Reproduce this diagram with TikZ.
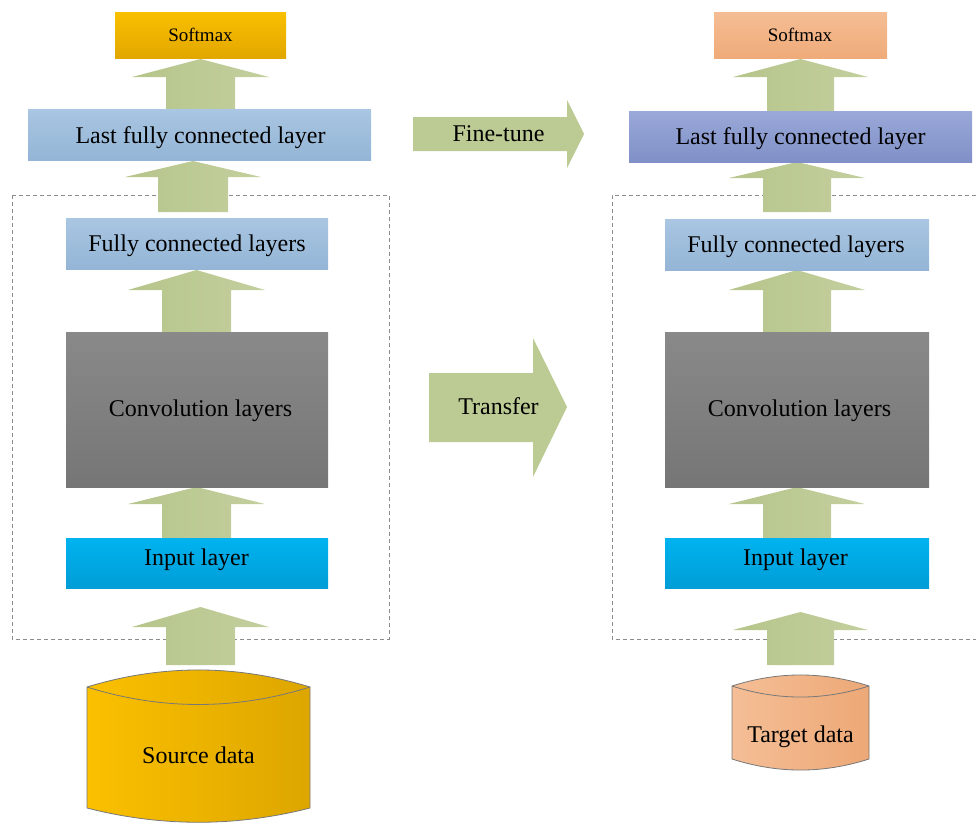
\documentclass[tikz,border=0pt]{standalone}
\usepackage{fontspec}
\setmainfont{Liberation Serif}
\usetikzlibrary{calc}
\definecolor{arrowL}{HTML}{B6C58B}
\definecolor{arrowR}{HTML}{C3CF9E}
\definecolor{arrowM}{HTML}{BCCA93}
\definecolor{dashgray}{HTML}{8C8C8C}
\definecolor{smLtop}{HTML}{F9C000}
\definecolor{smLbot}{HTML}{E2A700}
\definecolor{smRtop}{HTML}{F5BD94}
\definecolor{smRbot}{HTML}{EFAB79}
\definecolor{fcbtop}{HTML}{A9C6E2}
\definecolor{fcbbot}{HTML}{94B5D6}
\definecolor{fcptop}{HTML}{9AA9D8}
\definecolor{fcpbot}{HTML}{808FC7}
\definecolor{convtop}{HTML}{898989}
\definecolor{convbot}{HTML}{767676}
\definecolor{intop}{HTML}{00B3EF}
\definecolor{inbot}{HTML}{009DD6}
\definecolor{srcL}{HTML}{FBC000}
\definecolor{srcR}{HTML}{DDA600}
\definecolor{tgtL}{HTML}{F5BE96}
\definecolor{tgtR}{HTML}{EDA876}
\definecolor{cylrim}{HTML}{787878}
\tikzset{
  layerbox/.style={rectangle, inner sep=0pt},
  smaxL/.style={layerbox, top color=smLtop, bottom color=smLbot},
  smaxR/.style={layerbox, top color=smRtop, bottom color=smRbot},
  fcblue/.style={layerbox, top color=fcbtop, bottom color=fcbbot},
  fcpurple/.style={layerbox, top color=fcptop, bottom color=fcpbot},
  convbox/.style={layerbox, top color=convtop, bottom color=convbot},
  inbox/.style={layerbox, top color=intop, bottom color=inbot},
  fatarrow/.style={left color=arrowL, right color=arrowR, draw=none},
  midarrow/.style={fill=arrowM, draw=none},
  regionbox/.style={draw=dashgray, line width=0.9pt, dash pattern=on 4pt off 3pt},
  cylsrc/.style={draw=cylrim, line width=0.8pt, left color=srcL, right color=srcR},
  cyltgt/.style={draw=cylrim, line width=0.8pt, left color=tgtL, right color=tgtR},
  rimline/.style={draw=cylrim, line width=0.8pt},
  lbl/.style={inner sep=0pt, anchor=base, font=\fontsize{24}{28}\selectfont},
  smalllbl/.style={inner sep=0pt, anchor=base, font=\fontsize{19}{22}\selectfont},
}
% up block arrow: cx, ybottom, ytip, shaft half width, head half width, head length
\newcommand\upblock[6]{%
  \path[fatarrow] ({#1-#4},#2) -- ({#1-#4},{#3+#6}) -- ({#1-#5},{#3+#6}) -- (#1,#3)
    -- ({#1+#5},{#3+#6}) -- ({#1+#4},{#3+#6}) -- ({#1+#4},#2) -- cycle;}
\begin{document}
\begin{tikzpicture}[x=1pt,y=-1pt]
\useasboundingbox (0,0) rectangle (976,822);
% dashed regions
\draw[regionbox] (12,195) rectangle (389,639);
\draw[regionbox] (990,195) -- (612,195) -- (612,639) -- (990,639);

% block arrows (left)
\upblock{200.5}{109}{59}{34.5}{68.5}{18}
\upblock{193}{212}{161}{35}{68}{16}
\upblock{196.5}{332}{270}{34.5}{68.5}{20}
\upblock{196.5}{538}{487}{34.5}{68.5}{17}
\upblock{200.5}{665}{607}{34.5}{68.5}{20}
% block arrows (right)
\upblock{800.5}{111}{59}{33.5}{67.5}{18}
\upblock{797}{212}{162}{34}{68}{16}
\upblock{797}{332}{270}{34}{68}{20}
\upblock{797}{538}{487}{34}{68}{17}
\upblock{800.5}{665}{612}{33.5}{67.5}{18}

% left column
\node[smaxL, minimum width=171pt, minimum height=46pt] (smL) at (200.5,35) {};
\node[fcblue, minimum width=343pt, minimum height=51pt] (lastL) at (199.5,134.5) {};
\node[fcblue, minimum width=262pt, minimum height=51pt] (fcL) at (197,243.5) {};
\node[convbox, minimum width=262pt, minimum height=155pt] (convL) at (197,409.5) {};
\node[inbox, minimum width=262pt, minimum height=50pt] (inL) at (197,563) {};
\node[smalllbl] (smLt) at ($(smL.center)+(0,6)$) {Softmax};
\node[lbl] (lastLt) at ($(lastL.center)+(1,8.8)$) {Last fully connected layer};
\node[lbl] (fcLt) at ($(fcL.center)+(0,8)$) {Fully connected layers};
\node[lbl] (convLt) at ($(convL.center)+(3.5,7.2)$) {Convolution layers};
\node[lbl] (inLt) at ($(inL.center)+(-0.5,2.7)$) {Input layer};

% right column
\node[smaxR, minimum width=173pt, minimum height=46pt] (smR) at (800.5,35) {};
\node[fcpurple, minimum width=343pt, minimum height=51pt] (lastR) at (800.5,136.5) {};
\node[fcblue, minimum width=264pt, minimum height=51pt] (fcR) at (797,244.5) {};
\node[convbox, minimum width=264pt, minimum height=155pt] (convR) at (797,409.5) {};
\node[inbox, minimum width=264pt, minimum height=50pt] (inR) at (797,563) {};
\node[smalllbl] (smRt) at ($(smR.center)+(-0.5,6)$) {Softmax};
\node[lbl] (lastRt) at ($(lastR.center)+(0,7.5)$) {Last fully connected layer};
\node[lbl] (fcRt) at ($(fcR.center)+(-1,7.8)$) {Fully connected layers};
\node[lbl] (convRt) at ($(convR.center)+(2.5,7.2)$) {Convolution layers};
\node[lbl] (inRt) at ($(inR.center)+(-1.5,2.2)$) {Input layer};

% middle arrows
\path[midarrow] (413,117) -- (567,117) -- (567,100) -- (584,134) -- (567,168) -- (567,151) -- (413,151) -- cycle;
\node[lbl] (fine) at (498.5,141.7) {Fine-tune};
\path[midarrow] (429,373) -- (533,373) -- (533,338) -- (567,407) -- (533,477) -- (533,442) -- (429,442) -- cycle;
\node[lbl] (transfer) at (498.5,414) {Transfer};

% source cylinder
\path[cylsrc] (87,687) .. controls (161,664.3) and (236,664.3) .. (310,687) -- (310,808)
  .. controls (236,827) and (161,827) .. (87,808) -- cycle;
\path[rimline] (87,687) .. controls (161,710.3) and (236,710.3) .. (310,687);
\node[lbl] (src) at (198.5,763.3) {Source data};

% target cylinder
\path[cyltgt] (732,686) .. controls (778,671.3) and (823,671.3) .. (869,686) -- (869,759)
  .. controls (823,773.7) and (778,773.7) .. (732,759) -- cycle;
\path[rimline] (732,686) .. controls (778,700.7) and (823,700.7) .. (869,686);
\node[lbl] (tgt) at (800.5,742.7) {Target data};
\end{tikzpicture}
\end{document}
